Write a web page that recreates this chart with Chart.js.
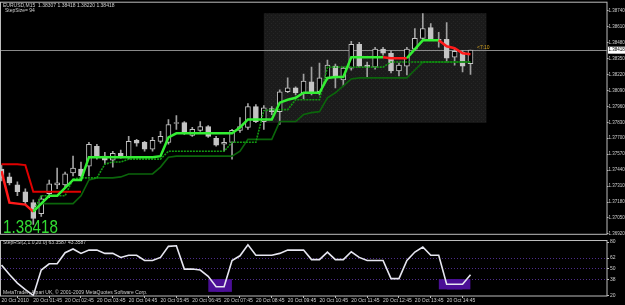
<!DOCTYPE html>
<html>
<head>
<meta charset="utf-8">
<script src="https://cdn.jsdelivr.net/npm/chart.js@4.4.1/dist/chart.umd.min.js"></script>
<style>
  html, body { margin: 0; padding: 0; background: #000; overflow: hidden; }
  #wrap { position: relative; width: 625px; height: 305px; }
  canvas { position: absolute; left: 0; }
  #main { top: 0; }
  #ind { top: 237px; }
</style>
</head>
<body>
<div id="wrap">
  <canvas id="main" width="625" height="237"></canvas>
  <canvas id="ind" width="625" height="68"></canvas>
</div>
<script>
// EURUSD M15, 20 Oct 2010, bars from 00:45 to 15:30
const opens = [1.37449,1.37385,1.37320,1.37264,1.37175,1.37086,1.37248,1.37320,1.37320,1.37417,
  1.37449,1.37473,1.37635,1.37554,1.37522,1.37578,1.37546,1.37683,1.37667,1.37611,
  1.37675,1.37667,1.37820,1.37828,1.37724,1.37764,1.37796,1.37699,1.37651,1.37667,
  1.37764,1.37788,1.37958,1.37836,1.37941,1.37917,1.38079,1.38111,1.38071,1.38159,
  1.38079,1.38192,1.38288,1.38175,1.38272,1.38466,1.38296,1.38280,1.38426,1.38393,
  1.38248,1.38288,1.38426,1.38514,1.38603,1.38506,1.38506,1.38361,1.38401,1.38307];
const highs = [1.37481,1.37417,1.37344,1.37288,1.37199,1.37231,1.37360,1.37457,1.37425,1.37554,
  1.37506,1.37667,1.37651,1.37586,1.37594,1.37603,1.37715,1.37691,1.37675,1.37707,
  1.37756,1.37853,1.37885,1.37836,1.37788,1.37836,1.37804,1.37715,1.37699,1.37772,
  1.37869,1.37982,1.37974,1.37966,1.37958,1.38095,1.38192,1.38119,1.38224,1.38280,
  1.38313,1.38337,1.38304,1.38280,1.38490,1.38482,1.38321,1.38442,1.38442,1.38417,
  1.38313,1.38442,1.38595,1.38716,1.38635,1.38563,1.38643,1.38434,1.38417,1.38418];
const lows = [1.37352,1.37320,1.37231,1.37167,1.36997,1.37062,1.37215,1.37288,1.37304,1.37393,
  1.37385,1.37393,1.37530,1.37489,1.37465,1.37538,1.37530,1.37635,1.37594,1.37594,
  1.37659,1.37651,1.37772,1.37732,1.37715,1.37756,1.37707,1.37635,1.37594,1.37530,
  1.37748,1.37772,1.37828,1.37772,1.37893,1.37812,1.38071,1.38054,1.38022,1.38054,
  1.38054,1.38175,1.38111,1.38127,1.38256,1.38280,1.38200,1.38264,1.38377,1.38232,
  1.38208,1.38216,1.38417,1.38498,1.38498,1.38442,1.38321,1.38296,1.38240,1.38220];
const closes = [1.37377,1.37336,1.37264,1.37183,1.37046,1.37207,1.37328,1.37336,1.37409,1.37457,
  1.37393,1.37651,1.37554,1.37522,1.37578,1.37554,1.37675,1.37659,1.37611,1.37683,
  1.37715,1.37812,1.37828,1.37740,1.37772,1.37796,1.37715,1.37643,1.37667,1.37764,
  1.37796,1.37958,1.37836,1.37949,1.37917,1.38079,1.38111,1.38071,1.38167,1.38071,
  1.38192,1.38296,1.38192,1.38272,1.38466,1.38288,1.38280,1.38426,1.38393,1.38248,
  1.38296,1.38426,1.38514,1.38595,1.38506,1.38498,1.38353,1.38409,1.38288,1.38418];

// step line, +1 = rising (green), -1 = falling (red)
const stepLine = [1.37433,1.37175,1.37167,1.37159,1.37102,1.37167,1.37231,1.37231,1.37296,1.37360,
  1.37360,1.37546,1.37546,1.37546,1.37546,1.37546,1.37546,1.37546,1.37546,1.37546,
  1.37554,1.37707,1.37740,1.37740,1.37740,1.37740,1.37740,1.37740,1.37740,1.37740,
  1.37788,1.37853,1.37853,1.37853,1.37853,1.37990,1.38014,1.38030,1.38071,1.38071,
  1.38071,1.38192,1.38200,1.38200,1.38361,1.38361,1.38361,1.38361,1.38361,1.38353,
  1.38353,1.38353,1.38426,1.38498,1.38498,1.38498,1.38450,1.38434,1.38393,1.38385];
const stepTrend = [-1,-1,-1,-1,-1, 1,1,1,1,1, 1,1,1,1,1,1,1,1,1,1, 1,1,1,1,1,1,1,1,1,1,
  1,1,1,1,1,1,1,1,1,1, 1,1,1,1,1,1,1,1,1,-1, -1,-1,1,1,1,1,-1,-1,-1,-1];
const upperBand = [1.37489,1.37489,1.37489,1.37481,1.37264,1.37264,1.37264,1.37264,1.37264,1.37264,
  1.37264,null,null,null,null,null,null,null,null,null,
  null,null,null,null,null,null,null,null,null,null,
  null,null,null,null,null,null,null,null,null,null,
  null,null,null,null,null,null,null,null,null,null,
  null,null,null,null,null,null,null,null,null,null];
const lowerBand1 = [null,null,null,null,1.37102,1.37231,1.37231,1.37231,1.37231,1.37368,
  1.37377,1.37377,1.37377,1.37489,1.37506,1.37506,1.37530,1.37530,1.37530,1.37530,
  1.37530,1.37594,1.37594,1.37594,1.37594,1.37594,1.37594,1.37594,1.37594,1.37667,
  1.37667,1.37667,1.37667,1.37925,1.37933,1.37933,1.37933,1.38014,1.38014,1.38014,
  1.38014,1.38280,1.38280,1.38280,1.38280,1.38280,1.38280,1.38280,1.38280,1.38321,
  1.38321,1.38321,1.38321,1.38321,1.38321,1.38321,1.38321,1.38321,1.38321,1.38321];
const lowerBand2 = [null,null,null,null,1.37102,1.37167,1.37167,1.37167,1.37167,1.37167,
  1.37231,1.37360,1.37377,1.37377,1.37377,1.37385,1.37409,1.37409,1.37409,1.37409,
  1.37465,1.37546,1.37554,1.37554,1.37554,1.37554,1.37554,1.37554,1.37554,1.37554,
  1.37594,1.37691,1.37691,1.37691,1.37691,1.37836,1.37836,1.37836,1.37893,1.37909,
  1.37917,1.38030,1.38071,1.38127,1.38183,1.38192,1.38192,1.38192,1.38192,1.38192,
  1.38192,1.38192,1.38256,1.38321,1.38321,1.38321,1.38321,1.38321,1.38321,1.38321];

const rsi = [54.3,43.6,34.0,26.6,20.2,48.6,55.6,55.6,68.1,72.3,
  67.3,71.0,71.0,67.3,67.3,62.8,65.2,65.2,59.3,59.3,
  62.8,75.2,75.9,49.7,49.7,48.6,41.5,29.8,29.8,59.3,
  64.6,76.9,65.2,65.2,65.2,67.3,71.0,71.0,71.0,60.3,
  60.3,68.8,60.3,60.3,69.1,62.8,59.3,59.3,59.3,39.0,
  39.0,59.3,68.8,74.5,65.2,65.2,32.7,32.7,32.7,43.36];
const histBars = [27, 28, 56, 57, 58];
const histLows = [24.5, 24.5, 27.3, 27.3, 27.3];
const rsiLevels = [38, 50, 62];
const rsiTicks = [20, 38, 50, 62, 80];

const priceTicks = [1.38740,1.38610,1.38480,1.38350,1.38220,1.38090,1.37960,1.37830,
  1.37700,1.37570,1.37440,1.37310,1.37180,1.37050,1.36920];
const timeTickBars = [0,4,8,12,16,20,24,28,32,36,40,44,48,52,56];
const timeLabels = ['20 Oct 2010','20 Oct 01:45','20 Oct 02:45','20 Oct 03:45','20 Oct 04:45',
  '20 Oct 05:45','20 Oct 06:45','20 Oct 07:45','20 Oct 08:45','20 Oct 09:45','20 Oct 10:45',
  '20 Oct 11:45','20 Oct 12:45','20 Oct 13:45','20 Oct 14:45'];
// shaded zone: first bar, last bar, top price, bottom price
const zoneBox = [33, 61, 1.38719, 1.37826];

const FONT = '"Liberation Sans", Arial, sans-serif';
const TXT = '#cfcfcf';
const FRAME = '#bdbdbd';
Chart.defaults.font.family = FONT;
Chart.defaults.animation = false;

const last = closes.length - 1;
const pts = arr => arr.map((v, k) => ({ x: k, y: v }));
const X_MIN = -0.063, X_MAX = 76.17;

const pat = document.createElement('canvas');
pat.width = 4; pat.height = 4;
const pc = pat.getContext('2d');
pc.fillStyle = '#1b1b1b'; pc.fillRect(0, 0, 4, 4);
pc.fillStyle = '#262626'; pc.fillRect(1, 1, 1, 1); pc.fillRect(3, 3, 1, 1);

function frame(chart) {
  const { ctx, chartArea: a } = chart;
  ctx.save();
  ctx.strokeStyle = FRAME;
  ctx.lineWidth = 1;
  ctx.strokeRect(a.left - 0.5, a.top - 0.5, a.right - a.left + 0.5, a.bottom - a.top + 0.5);
  ctx.restore();
}

const mainDecor = {
  id: 'mainDecor',
  beforeDatasetsDraw(chart) {
    const { ctx, chartArea: a, scales: { x, y } } = chart;
    ctx.save();
    const x0 = x.getPixelForValue(zoneBox[0]), x1 = x.getPixelForValue(zoneBox[1]);
    const y0 = y.getPixelForValue(zoneBox[2]), y1 = y.getPixelForValue(zoneBox[3]);
    ctx.fillStyle = ctx.createPattern(pat, 'repeat');
    ctx.fillRect(x0, y0, x1 - x0, y1 - y0);
    const py = Math.round(y.getPixelForValue(closes[last])) + 0.5;
    ctx.strokeStyle = '#8a8a8a';
    ctx.beginPath(); ctx.moveTo(a.left, py); ctx.lineTo(a.right, py); ctx.stroke();
    ctx.restore();
  },
  afterDraw(chart) {
    const { ctx, chartArea: a, scales: { y } } = chart;
    frame(chart);
    ctx.save();
    ctx.font = '5px ' + FONT;
    ctx.fillStyle = TXT;
    ctx.textBaseline = 'middle';
    ctx.fillText('EURUSD,M15  ' + [opens[last], highs[last], lows[last], closes[last]].map(v => v.toFixed(5)).join(' '), 3, 5.5);
    ctx.fillText('StepSize= 94', 5, 10.5);
    const py = y.getPixelForValue(closes[last]);
    ctx.fillStyle = '#d9a520';
    ctx.fillText('<7:10', 477, py - 2.5);
    ctx.fillStyle = '#ffffff';
    ctx.fillRect(a.right + 1, py - 3.5, 17, 7);
    ctx.fillStyle = '#000';
    ctx.font = '4.5px ' + FONT;
    ctx.fillText(closes[last].toFixed(5), a.right + 1.5, py);
    ctx.fillStyle = '#33dd33';
    ctx.font = '19px ' + FONT;
    ctx.textBaseline = 'alphabetic';
    ctx.translate(3, 233);
    ctx.scale(0.8, 1);
    ctx.fillText(closes[last].toFixed(5), 0, 0);
    ctx.restore();
  }
};

new Chart(document.getElementById('main'), {
  type: 'bar',
  plugins: [mainDecor],
  data: {
    datasets: [
      {
        type: 'line', data: pts(stepLine), borderWidth: 2.5, pointRadius: 0, order: 0,
        borderColor: '#33ee33',
        segment: { borderColor: c => stepTrend[c.p1DataIndex] > 0 ? '#33ee33' : '#ff1a1a' },
      },
      { type: 'line', data: pts(upperBand), borderColor: '#e00000', borderWidth: 2, pointRadius: 0, order: 1 },
      { type: 'line', data: pts(lowerBand1), borderColor: '#129a12', borderWidth: 1.6, borderDash: [2, 1], pointRadius: 0, order: 2 },
      { type: 'line', data: pts(lowerBand2), borderColor: '#0b650b', borderWidth: 1.6, pointRadius: 0, order: 3 },
      {
        // candle bodies: filled = bearish, hollow = bullish
        data: closes.map((c, k) => ({ x: k, y: [opens[k], c] })),
        backgroundColor: closes.map((c, k) => c < opens[k] ? '#c4c4c4' : '#000000'),
        borderColor: '#c4c4c4', borderWidth: 1, borderSkipped: false,
        barThickness: 5, minBarLength: 1, grouped: false, order: 4,
      },
      {
        data: closes.map((c, k) => ({ x: k, y: [lows[k], highs[k]] })),
        backgroundColor: '#a0a0a0', barThickness: 1, grouped: false, order: 5,
      },
    ],
  },
  options: {
    responsive: false,
    devicePixelRatio: 1,
    layout: { padding: { left: 1, top: 2, bottom: 1, right: 0 } },
    plugins: { legend: { display: false }, tooltip: { enabled: false } },
    scales: {
      x: { type: 'linear', display: false, min: X_MIN, max: X_MAX, offset: false },
      y: {
        position: 'right', min: 1.36917, max: 1.38805,
        afterFit: s => { s.width = 18; },
        afterBuildTicks: s => { s.ticks = priceTicks.map(v => ({ value: v })); },
        ticks: { callback: v => v.toFixed(5), font: { size: 4.5 }, color: TXT, padding: 0, autoSkip: false },
        grid: { drawOnChartArea: false, tickLength: 1.5, color: FRAME },
        border: { display: false },
      },
    },
  },
});

const indDecor = {
  id: 'indDecor',
  afterDraw(chart) {
    const { ctx } = chart;
    frame(chart);
    ctx.save();
    ctx.font = '5px ' + FONT;
    ctx.fillStyle = TXT;
    ctx.textBaseline = 'middle';
    ctx.fillText('StepRSI(2,1.0,20.0) 63.3587 43.3587', 3, 5.5);
    ctx.fillText('MetaTrader, Alpari UK, \u00a9 2001-2009 MetaQuotes Software Corp.', 3, 55.5);
    ctx.restore();
  }
};

new Chart(document.getElementById('ind'), {
  type: 'bar',
  plugins: [indDecor],
  data: {
    datasets: [
      { type: 'line', data: pts(rsi), borderColor: '#e6e6f0', borderWidth: 1.6, pointRadius: 0, order: 0 },
      {
        data: histBars.map((k, i) => ({ x: k, y: [rsiLevels[0], histLows[i]] })),
        backgroundColor: '#4b0f96', barThickness: 15, grouped: false, order: 1,
      },
    ],
  },
  options: {
    responsive: false,
    devicePixelRatio: 1,
    layout: { padding: { left: 1, top: 1, bottom: 0, right: 0 } },
    plugins: { legend: { display: false }, tooltip: { enabled: false } },
    scales: {
      x: {
        type: 'linear', min: X_MIN, max: X_MAX, offset: false,
        afterFit: s => { s.height = 9; },
        afterBuildTicks: s => { s.ticks = timeTickBars.map(v => ({ value: v })); },
        ticks: { callback: (v, i) => timeLabels[i], align: 'start', font: { size: 5 }, color: TXT, padding: 0, autoSkip: false, maxRotation: 0 },
        grid: { drawOnChartArea: false, tickLength: 2, color: FRAME },
        border: { display: false },
      },
      y: {
        position: 'right', min: 19.5, max: 81.2,
        afterFit: s => { s.width = 18; },
        afterBuildTicks: s => { s.ticks = rsiTicks.map(v => ({ value: v })); },
        ticks: { font: { size: 5 }, color: TXT, padding: 1, autoSkip: false },
        grid: {
          color: c => rsiLevels.includes(c.tick && c.tick.value) ? '#4f2c8c' : 'rgba(0,0,0,0)',
          tickColor: FRAME, tickLength: 2,
        },
        border: { display: false, dash: [1, 2] },
      },
    },
  },
});
</script>
</body>
</html>
